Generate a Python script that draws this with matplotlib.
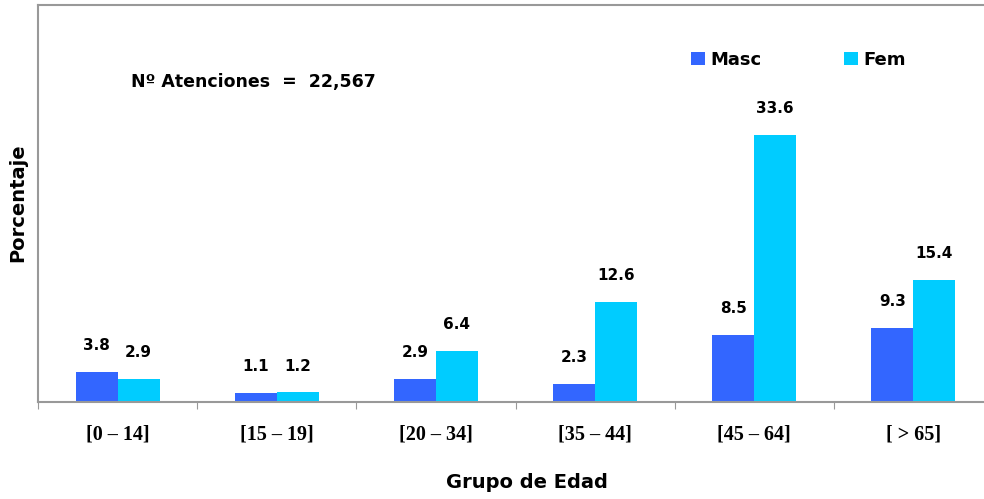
import matplotlib.pyplot as plt
import numpy as np

# data
grupos = ['[0 – 14]', '[15 – 19]', '[20 – 34]', '[35 – 44]', '[45 – 64]', '[ > 65]']
masc = [3.8, 1.1, 2.9, 2.3, 8.5, 9.3]
fem = [2.9, 1.2, 6.4, 12.6, 33.6, 15.4]
total_atenciones = '22,567'

c_masc = '#3366FF'
c_fem = '#00CCFF'
spine_col = '#999999'

fig = plt.figure(figsize=(9.84, 4.99), dpi=100)
ax = fig.add_axes([38 / 984, 1 - 402 / 499, 955 / 984, 397 / 499])

x = np.arange(len(grupos))
w = 0.264
b1 = ax.bar(x - w / 2, masc, w, color=c_masc, label='Masc')
b2 = ax.bar(x + w / 2, fem, w, color=c_fem, label='Fem')

# value labels
for bars, vals in [(b1, masc), (b2, fem)]:
    for r, v in zip(bars, vals):
        ax.annotate(f'{v:.1f}', (r.get_x() + r.get_width() / 2, v),
                    xytext=(0, 19), textcoords='offset points',
                    ha='center', va='center', fontsize=11, fontweight='bold')

ax.set_xlim(-0.5, len(grupos) - 0.5)
ax.set_ylim(0, 50)
ax.set_yticks([])

# ticks at group boundaries, labels at centers
ax.set_xticks(np.arange(len(grupos) + 1) - 0.5)
ax.set_xticklabels([])
ax.set_xticks(x, minor=True)
ax.set_xticklabels(grupos, minor=True, fontsize=14.5, fontweight='bold',
                   family='Liberation Serif')
ax.tick_params(axis='x', which='major', length=5, color=spine_col, direction='out')
ax.tick_params(axis='x', which='minor', length=0, pad=16)

for s in ax.spines.values():
    s.set_color(spine_col)
    s.set_linewidth(1.5)

fig.text(527 / 984, 1 - 483 / 499, 'Grupo de Edad', ha='center', va='center',
         fontsize=14, fontweight='bold')
fig.text(18 / 984, 1 - 203 / 499, 'Porcentaje', rotation=90, ha='center',
         va='center', fontsize=14, fontweight='bold')

fig.text(253 / 984, 1 - 82 / 499, 'Nº Atenciones  =  ' + total_atenciones,
         ha='center', va='center', fontsize=12.5, fontweight='bold')

fig.legend(handles=[b1, b2], loc='center left', ncol=2, frameon=False,
           bbox_to_anchor=(675 / 984, 1 - 60 / 499),
           prop={'weight': 'bold', 'size': 13},
           handlelength=0.75, handleheight=0.75, handletextpad=0.3,
           columnspacing=4.6)

fig.savefig('out.png', dpi=100)
